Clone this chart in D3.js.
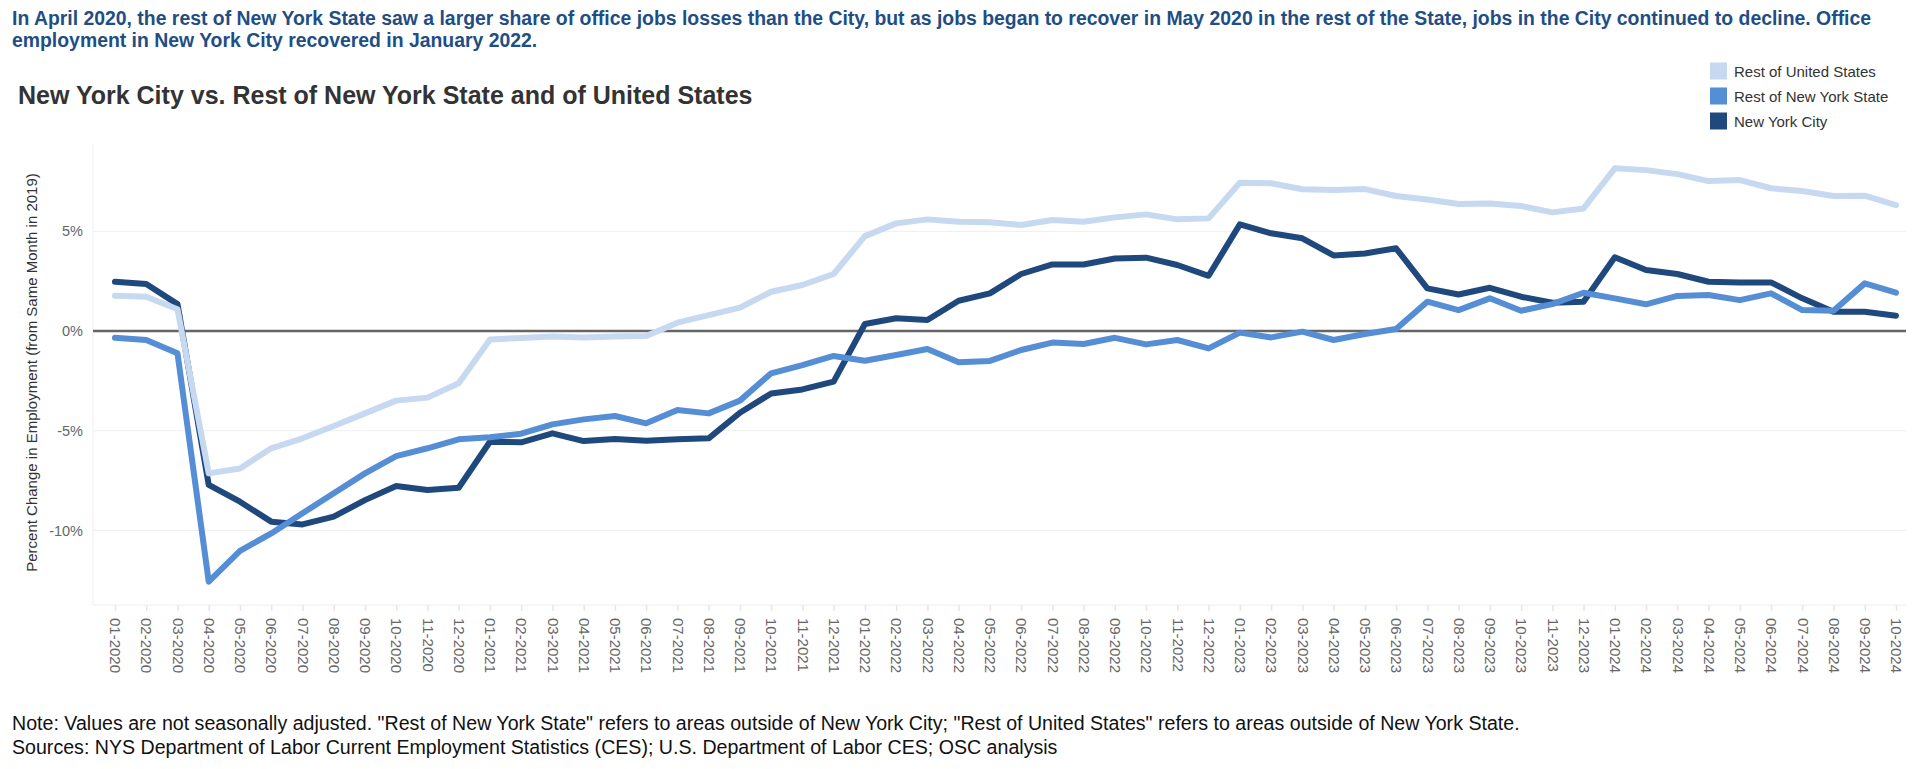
<!DOCTYPE html>
<html>
<head>
<meta charset="utf-8">
<script src="https://cdn.jsdelivr.net/npm/d3@7"></script>
<style>
  html, body { margin: 0; padding: 0; background: #fff; }
  svg { display: block; font-family: "Liberation Sans", Arial, Helvetica, sans-serif; }
</style>
</head>
<body>
<svg id="chart" width="1920" height="769"></svg>
<script>
const months = ["01-2020","02-2020","03-2020","04-2020","05-2020","06-2020","07-2020","08-2020","09-2020","10-2020","11-2020","12-2020",
"01-2021","02-2021","03-2021","04-2021","05-2021","06-2021","07-2021","08-2021","09-2021","10-2021","11-2021","12-2021",
"01-2022","02-2022","03-2022","04-2022","05-2022","06-2022","07-2022","08-2022","09-2022","10-2022","11-2022","12-2022",
"01-2023","02-2023","03-2023","04-2023","05-2023","06-2023","07-2023","08-2023","09-2023","10-2023","11-2023","12-2023",
"01-2024","02-2024","03-2024","04-2024","05-2024","06-2024","07-2024","08-2024","09-2024","10-2024"];

const restUS = [1.77, 1.72, 1.09, -7.14, -6.89, -5.88, -5.38, -4.76, -4.13, -3.49, -3.34, -2.62,
-0.42, -0.35, -0.28, -0.33, -0.28, -0.25, 0.42, 0.80, 1.17, 1.97, 2.31, 2.86,
4.76, 5.40, 5.60, 5.48, 5.45, 5.32, 5.57, 5.48, 5.70, 5.85, 5.60, 5.65,
7.44, 7.41, 7.11, 7.07, 7.12, 6.77, 6.60, 6.37, 6.40, 6.27, 5.95, 6.15,
8.16, 8.07, 7.87, 7.52, 7.57, 7.16, 7.02, 6.77, 6.79, 6.32];

const restNYS = [-0.34, -0.45, -1.12, -12.57, -11.02, -10.15, -9.14, -8.14, -7.14, -6.27, -5.88, -5.43,
-5.33, -5.15, -4.68, -4.43, -4.26, -4.63, -3.96, -4.13, -3.49, -2.12, -1.71, -1.25,
-1.49, -1.20, -0.90, -1.57, -1.50, -0.95, -0.58, -0.65, -0.34, -0.67, -0.45, -0.87,
-0.08, -0.32, -0.03, -0.45, -0.15, 0.10, 1.47, 1.05, 1.64, 1.02, 1.35, 1.92,
1.64, 1.34, 1.76, 1.81, 1.55, 1.89, 1.05, 1.02, 2.39, 1.92];

const nyc = [2.47, 2.36, 1.35, -7.72, -8.56, -9.56, -9.70, -9.31, -8.48, -7.77, -7.97, -7.86,
-5.55, -5.58, -5.13, -5.52, -5.42, -5.50, -5.43, -5.38, -4.10, -3.13, -2.93, -2.54,
0.35, 0.64, 0.55, 1.52, 1.89, 2.86, 3.34, 3.34, 3.64, 3.68, 3.31, 2.77,
5.35, 4.90, 4.65, 3.79, 3.89, 4.15, 2.14, 1.83, 2.17, 1.72, 1.42, 1.47,
3.70, 3.06, 2.86, 2.47, 2.44, 2.44, 1.64, 0.97, 0.97, 0.77];

const seriesNames = ["Rest of United States", "Rest of New York State", "New York City"];
const seriesColors = ["#c6d9f1", "#558ed5", "#1f497d"];
const yTicks = [-10, -5, 0, 5];

const headline = [
  "In April 2020, the rest of New York State saw a larger share of office jobs losses than the City, but as jobs began to recover in May 2020 in the rest of the State, jobs in the City continued to decline. Office",
  "employment in New York City recovered in January 2022."
];
const chartTitle = "New York City vs. Rest of New York State and of United States";
const yTitle = "Percent Change in Employment (from Same Month in 2019)";
const notes = [
  "Note: Values are not seasonally adjusted. \"Rest of New York State\" refers to areas outside of New York City; \"Rest of United States\" refers to areas outside of New York State.",
  "Sources: NYS Department of Labor Current Employment Statistics (CES); U.S. Department of Labor CES; OSC analysis"
];

const svg = d3.select("#chart");
const plot = { left: 93, right: 1906, top: 144, bottom: 605 };

const x = d3.scalePoint().domain(months).range([115, 1896]);
const y = d3.scaleLinear().domain([-13.74, 9.38]).range([plot.bottom, plot.top]);

// headline
svg.append("g").selectAll("text").data(headline).join("text")
  .attr("x", 12).attr("y", (d, i) => 25 + i * 22)
  .attr("font-size", 19.4).attr("font-weight", "bold").attr("fill", "#1f4e85")
  .text(d => d);

svg.append("text").attr("x", 18).attr("y", 104)
  .attr("font-size", 25).attr("font-weight", "bold").attr("fill", "#333333")
  .text(chartTitle);

// gridlines
svg.append("g").selectAll("line").data(yTicks.filter(d => d !== 0)).join("line")
  .attr("x1", plot.left).attr("x2", plot.right)
  .attr("y1", d => y(d)).attr("y2", d => y(d))
  .attr("stroke", "#efefef").attr("stroke-width", 1);

// axis frame
svg.append("line").attr("x1", plot.left).attr("x2", plot.left)
  .attr("y1", plot.top).attr("y2", plot.bottom).attr("stroke", "#eeeeee").attr("stroke-width", 1);
svg.append("line").attr("x1", plot.left).attr("x2", plot.right)
  .attr("y1", plot.bottom).attr("y2", plot.bottom).attr("stroke", "#eeeeee").attr("stroke-width", 1);

// y axis
const yAxis = d3.axisLeft(y).tickValues(yTicks).tickSize(0).tickPadding(10).tickFormat(d => d + "%");
const gy = svg.append("g").attr("transform", `translate(${plot.left},0)`).call(yAxis);
gy.select(".domain").remove();
gy.selectAll("text").attr("font-size", 14.5).attr("fill", "#666666").attr("font-family", "Liberation Sans, Arial, sans-serif");

// x axis
const xAxis = d3.axisBottom(x).tickSize(6).tickPadding(0);
const gx = svg.append("g").attr("transform", `translate(0,${plot.bottom})`).call(xAxis);
gx.select(".domain").remove();
gx.selectAll(".tick line").attr("stroke", "#e6e6e6").attr("stroke-width", 1.5);
gx.selectAll("text")
  .attr("font-size", 15).attr("fill", "#666666").attr("font-family", "Liberation Sans, Arial, sans-serif")
  .attr("transform", "rotate(90)")
  .attr("x", 13).attr("y", 0).attr("dy", "0.35em")
  .attr("text-anchor", "start");

// y title
svg.append("text")
  .attr("transform", `translate(37,372.5) rotate(-90)`)
  .attr("text-anchor", "middle").attr("font-size", 15).attr("fill", "#333333")
  .text(yTitle);

// zero line
svg.append("line").attr("x1", plot.left).attr("x2", plot.right)
  .attr("y1", y(0)).attr("y2", y(0)).attr("stroke", "#666666").attr("stroke-width", 2.5);

// lines
const allSeries = [restUS, restNYS, nyc];
const line = d3.line().x((d, i) => x(months[i])).y(d => y(d));
const drawOrder = [2, 1, 0];
svg.append("g").selectAll("path").data(drawOrder).join("path")
  .attr("d", k => line(allSeries[k]))
  .attr("fill", "none")
  .attr("stroke", k => seriesColors[k])
  .attr("stroke-width", 6)
  .attr("stroke-linejoin", "round")
  .attr("stroke-linecap", "round");

// legend
const lg = svg.append("g").attr("transform", "translate(1710,0)");
const items = lg.selectAll("g").data(seriesNames).join("g")
  .attr("transform", (d, i) => `translate(0,${71 + i * 25})`);
items.append("rect").attr("x", 0).attr("y", -8.5).attr("width", 17).attr("height", 17)
  .attr("fill", (d, i) => seriesColors[i]);
items.append("text").attr("x", 24).attr("y", 5.5).attr("font-size", 15).attr("fill", "#333333").text(d => d);

// notes
svg.append("g").selectAll("text").data(notes).join("text")
  .attr("x", 12).attr("y", (d, i) => 730 + i * 24)
  .attr("font-size", 19.6).attr("fill", "#111111")
  .text(d => d);
</script>
</body>
</html>
